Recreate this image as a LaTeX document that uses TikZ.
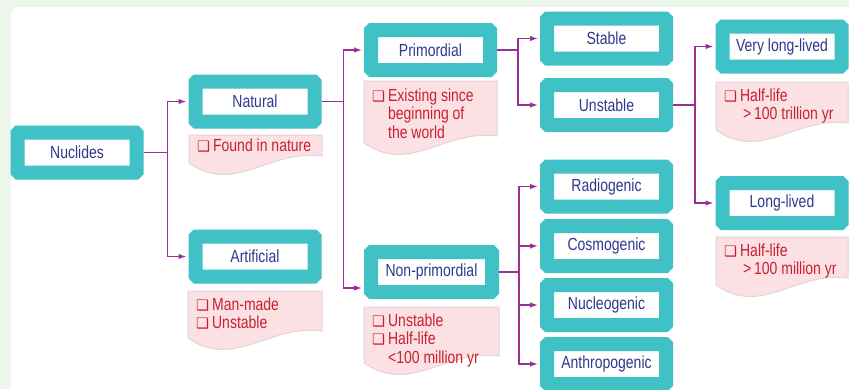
\documentclass[tikz,border=0pt]{standalone}
\usepackage{fontspec}
\setmainfont[FakeStretch=0.8]{Liberation Sans}
\newfontfamily\boxsym{DejaVu Sans}
\usetikzlibrary{arrows.meta}

\definecolor{boxteal}{HTML}{3FC1C6}
\definecolor{boxtext}{HTML}{2E3A8C}
\definecolor{linkpurple}{HTML}{9A2F98}
\definecolor{notepink}{HTML}{FCE1E4}
\definecolor{noteedge}{HTML}{E6D3D6}
\definecolor{notered}{HTML}{C8202F}
\definecolor{bggreen}{HTML}{ECF6EA}

\newcommand{\chk}{{\boxsym\fontsize{14.5}{14.5}\selectfont ❑}}
% note sheet: x1, y1 (top), x2, y of left bottom
\newcommand{\notebg}[4]{%
	\filldraw[notesheet] (#1,#2) -- (#3,#2) -- (#3,#4-7)
	.. controls ({#1+0.6*(#3-#1)},#4-14) and ({#1+0.35*(#3-#1)},#4+32) .. (#1,#4) -- cycle;}

\tikzset{
	nbox/.style={draw=boxteal, line width=14pt, fill=white, rounded corners=1pt,
		minimum width=119pt, minimum height=40pt, inner sep=0pt,
		text=boxtext, font=\fontsize{17.5}{19}\selectfont},
	link/.style={draw=linkpurple, line width=1.3pt},
	conn/.style={link, -{Latex[length=8pt,width=5.5pt]}, shorten >=2pt},
	notesheet/.style={fill=notepink, draw=noteedge, line width=1pt},
	ntext/.style={anchor=base west, inner sep=0pt, text=notered,
		font=\fontsize{17.5}{18.5}\selectfont}
}

\begin{document}
\begin{tikzpicture}[x=1pt, y=-1pt]
	\useasboundingbox (0,0) rectangle (849,389);
	\fill[bggreen] (0,0) rectangle (849,389);
	\fill[white, rounded corners=8pt] (11,7) rectangle (880,420);

	% boxes
	\node[nbox] (nuc) at (77,152.5) {Nuclides};
	\node[nbox] (nat) at (255,101.5) {Natural};
	\node[nbox] (art) at (255,256.5) {Artificial};
	\node[nbox] (prim) at (430.5,50) {Primordial};
	\node[nbox, minimum width=121pt] (nonp) at (431.5,272) {Non-primordial};
	\node[nbox] (stab) at (606.5,38.5) {Stable};
	\node[nbox] (unst) at (606.5,105) {Unstable};
	\node[nbox] (radio) at (606.5,186.5) {Radiogenic};
	\node[nbox] (cosmo) at (606.5,246) {Cosmogenic};
	\node[nbox] (nucleo) at (606.5,305) {Nucleogenic};
	\node[nbox] (anthro) at (606.5,364) {Anthropogenic};
	\node[nbox] (vll) at (782,46.5) {Very long-lived};
	\node[nbox] (ll) at (782,203) {Long-lived};

	% notes
	\notebg{189}{135}{322}{163}
	\node[ntext] (natnote) at (197,151) {\begin{tabular}[t]{@{}l@{\,}l@{}}\chk & Found in nature\end{tabular}};
	\notebg{188}{291}{322}{338}
	\node[ntext] (artnote) at (196,310) {\begin{tabular}[t]{@{}l@{\,}l@{}}\chk & Man-made\\ \chk & Unstable\end{tabular}};
	\notebg{364}{81}{497}{143}
	\node[ntext] (primnote) at (372,101) {\begin{tabular}[t]{@{}l@{\,}l@{}}\chk & Existing since\\ & beginning of\\ & the world\end{tabular}};
	\notebg{364}{307}{499}{363}
	\node[ntext] (nonpnote) at (372,326) {\begin{tabular}[t]{@{}l@{\,}l@{}}\chk & Unstable\\ \chk & Half-life\\ & <100 million yr\end{tabular}};
	\notebg{716}{82}{848}{130}
	\node[ntext] (vllnote) at (724,101) {\begin{tabular}[t]{@{}l@{\,}l@{}}\chk & Half-life\\ & \,>\,100 trillion yr\end{tabular}};
	\notebg{716}{237}{848}{285}
	\node[ntext] (llnote) at (724,256) {\begin{tabular}[t]{@{}l@{\,}l@{}}\chk & Half-life\\ & \,>\,100 million yr\end{tabular}};

	% connectors
	\draw[link] (nuc.east) -- ++(24,0) coordinate (j1);
	\draw[conn] (j1) |- (nat.west);
	\draw[conn] (j1) |- (art.west);

	\draw[link] (nat.east) -- ++(22,0) coordinate (j2);
	\draw[conn] (j2) |- (prim.west);
	\draw[conn] (j2) |- ([yshift=-16pt]nonp.west);

	\draw[link] (prim.east) -- ++(21,0) coordinate (j3);
	\draw[conn] (j3) |- (stab.west);
	\draw[conn] (j3) |- (unst.west);

	\draw[link] (unst.east) -- ++(22,0) coordinate (j4);
	\draw[conn] (j4) |- (vll.west);
	\draw[conn] (j4) |- (ll.west);

	\draw[link] (nonp.east) -- ++(20,0) coordinate (j5);
	\draw[conn] (j5) |- (radio.west);
	\draw[conn] (j5) |- (cosmo.west);
	\draw[conn] (j5) |- (nucleo.west);
	\draw[conn] (j5) |- (anthro.west);
\end{tikzpicture}
\end{document}
